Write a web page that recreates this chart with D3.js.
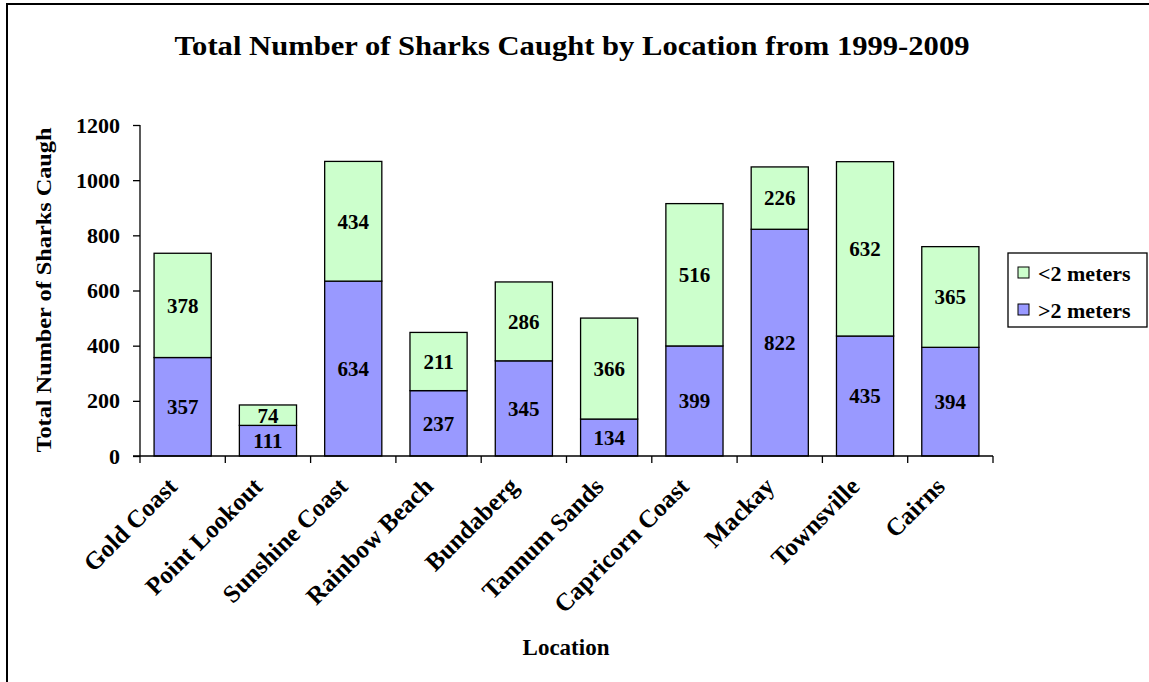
<!DOCTYPE html>
<html><head><meta charset="utf-8">
<script src="https://cdn.jsdelivr.net/npm/d3@7"></script>
<style>body{margin:0;background:#fff}svg{display:block}</style>
</head><body>
<svg id="c" width="1149" height="682"></svg>
<script>
const categories = ["Gold Coast","Point Lookout","Sunshine Coast","Rainbow Beach","Bundaberg","Tannum Sands","Capricorn Coast","Mackay","Townsville","Cairns"];
const over2 = [357,111,634,237,345,134,399,822,435,394];
const under2 = [378,74,434,211,286,366,516,226,632,365];
const seriesNames = ["<2 meters",">2 meters"];
const yTicks = [0,200,400,600,800,1000,1200];

const svg = d3.select("#c");
const font = "'Liberation Serif','Times New Roman',serif";
svg.append("rect").attr("x",7).attr("y",4).attr("width",1160).attr("height",700)
  .attr("fill","#fff").attr("stroke","#000").attr("stroke-width",2);

const x = d3.scaleBand().domain(categories).range([140,993]).paddingInner(0.33).paddingOuter(0.165);
const y = d3.scaleLinear().domain([0,1200]).range([456,125]);

// bars
const g = svg.append("g");
categories.forEach((c,i)=>{
  const a = over2[i], b = under2[i];
  g.append("rect").attr("x",x(c)).attr("y",y(a)).attr("width",x.bandwidth()).attr("height",y(0)-y(a))
    .attr("fill","#9999FF").attr("stroke","#000").attr("stroke-width",1.3);
  g.append("rect").attr("x",x(c)).attr("y",y(a+b)).attr("width",x.bandwidth()).attr("height",y(a)-y(a+b))
    .attr("fill","#CCFFCC").attr("stroke","#000").attr("stroke-width",1.3);
  g.append("text").attr("x",x(c)+x.bandwidth()/2).attr("y",y(a/2)).attr("dy","0.35em")
    .attr("text-anchor","middle").attr("font-family",font).attr("font-weight","bold").attr("font-size",21).text(a);
  g.append("text").attr("x",x(c)+x.bandwidth()/2).attr("y",y(a+b/2)).attr("dy","0.35em")
    .attr("text-anchor","middle").attr("font-family",font).attr("font-weight","bold").attr("font-size",21).text(b);
});

// y axis
const ya = svg.append("g").attr("transform","translate(140,0)")
  .call(d3.axisLeft(y).tickValues(yTicks).tickFormat(d3.format("d")).tickSize(7).tickPadding(13));
ya.select(".domain").attr("stroke","#000").attr("stroke-width",1.3).attr("d","M0,125V456");
ya.selectAll(".tick line").attr("stroke","#000").attr("stroke-width",1.3);
ya.selectAll("text").attr("font-family",font).attr("font-weight","bold").attr("font-size",22).attr("fill","#000");

// x axis
const bounds = d3.range(categories.length+1).map(i=>140 + i*x.step());
const xa = svg.append("g");
xa.append("line").attr("x1",133).attr("x2",993).attr("y1",456).attr("y2",456).attr("stroke","#000").attr("stroke-width",1.3);
xa.selectAll("line.t").data(bounds).join("line").attr("class","t")
  .attr("x1",d=>d).attr("x2",d=>d).attr("y1",456).attr("y2",463).attr("stroke","#000").attr("stroke-width",1.3);
xa.selectAll("text").data(categories).join("text")
  .attr("transform",d=>`translate(${x(d)+x.bandwidth()/2-4},${488}) rotate(-45)`)
  .attr("text-anchor","end").attr("font-family",font).attr("font-weight","bold").attr("font-size",25).text(d=>d);

// titles
svg.append("text").attr("x",572).attr("y",55).attr("text-anchor","middle").attr("font-family",font)
  .attr("font-weight","bold").attr("font-size",27).attr("textLength",795).attr("lengthAdjust","spacingAndGlyphs")
  .text("Total Number of Sharks Caught by Location from 1999-2009");
svg.append("text").attr("transform","translate(51,290) rotate(-90)").attr("text-anchor","middle").attr("font-family",font)
  .attr("font-weight","bold").attr("font-size",22).attr("textLength",325).attr("lengthAdjust","spacingAndGlyphs")
  .text("Total Number of Sharks Caugh");
svg.append("text").attr("x",566).attr("y",655).attr("text-anchor","middle").attr("font-family",font)
  .attr("font-weight","bold").attr("font-size",23).text("Location");

// legend
const lg = svg.append("g");
lg.append("rect").attr("x",1008).attr("y",253).attr("width",139).attr("height",74).attr("fill","#fff").attr("stroke","#000").attr("stroke-width",1.3);
const colors = ["#CCFFCC","#9999FF"];
seriesNames.forEach((s,i)=>{
  const yy = 273 + i*37;
  lg.append("rect").attr("x",1018).attr("y",yy-6).attr("width",11).attr("height",11).attr("fill",colors[i]).attr("stroke","#000").attr("stroke-width",1);
  lg.append("text").attr("x",1038).attr("y",yy).attr("dy","0.35em").attr("font-family",font).attr("font-weight","bold").attr("font-size",22).text(s);
});
</script>
</body></html>
